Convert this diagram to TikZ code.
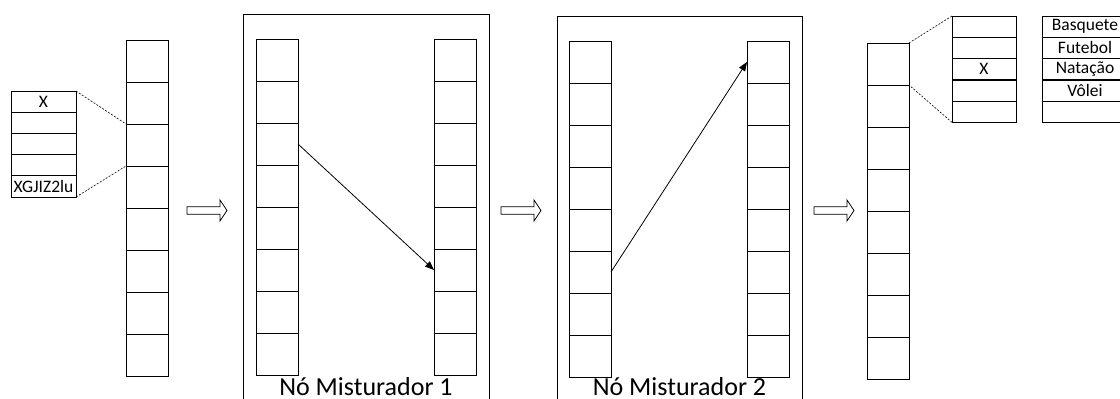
\documentclass[tikz,border=0pt]{standalone}
\usepackage{fontspec}
\setmainfont{Carlito}
\usetikzlibrary{arrows.meta}

\tikzset{
  cell/.style={draw, line width=0.8pt, minimum width=42pt, minimum height=42pt,
    inner sep=0pt, outer sep=0pt, anchor=north west},
  slot/.style={draw, line width=0.8pt, minimum height=21.2pt, inner sep=0pt,
    outer sep=0pt, anchor=north west, font=\fontsize{17.5}{18}\selectfont},
  frame/.style={draw, line width=0.8pt},
  zoomline/.style={dash pattern=on 2pt off 1.5pt, line width=0.6pt},
  hop/.style={line width=0.8pt, -{Triangle[length=9pt,width=7pt]}},
  caption/.style={font=\fontsize{26}{28}\selectfont, anchor=base, inner sep=0pt},
  hollowarrow/.pic={
    \draw[line width=0.8pt] (0,-3.8) -- (33,-3.8) -- (33,-10.5) -- (40,0)
      -- (33,10.5) -- (33,3.8) -- (0,3.8) -- cycle;
  }
}

% a vertical column of n square cells named <name>-1 ... <name>-n
\newcommand\cellcolumn[4]{%
  \foreach \k in {1,...,#4}
    \node[cell] (#1-\k) at (#2, {#3+42*(\k-1)}) {};%
}

\begin{document}
\begin{tikzpicture}[x=1pt, y=-1pt]
  \useasboundingbox (0,0) rectangle (1120,399);
  \clip (0,0) rectangle (1120,399);

  % input list and its zoomed record
  \cellcolumn{c1}{126}{40}{8}
  \foreach \k/\t in {1/X,2/,3/,4/,5/XGJIZ2lu}
    \node[slot, minimum width=65pt] (L-\k) at (11, {91+21.2*(\k-1)}) {\t};
  \draw[zoomline] (L-1.north east) -- (c1-3.north west);
  \draw[zoomline] (L-5.south east) -- (c1-4.north west);

  \pic (a1) at (187,210.5) {hollowarrow};

  % first mixing node
  \draw[frame] (243,14) rectangle (489,420);
  \cellcolumn{m1L}{256}{39}{8}
  \cellcolumn{m1R}{434}{39}{8}
  \draw[hop] (m1L-3.east) -- (m1R-6.west);
  \node[caption] (cap1) at (366,395) {Nó Misturador 1};

  \pic (a2) at (501,210.5) {hollowarrow};

  % second mixing node
  \draw[frame] (557,16) rectangle (802,420);
  \cellcolumn{m2L}{569}{41}{8}
  \cellcolumn{m2R}{747}{41}{8}
  \draw[hop] (m2L-6.east) -- (m2R-1.west);
  \node[caption] (cap2) at (679.5,395) {Nó Misturador 2};

  \pic (a3) at (814,210.5) {hollowarrow};

  % output list, zoomed record and the value table
  \cellcolumn{c4}{867}{43}{8}
  \foreach \k/\t in {1/,2/,3/X,4/,5/}
    \node[slot, minimum width=64pt] (R-\k) at (952, {16+21.3*(\k-1)}) {\t};
  \draw[zoomline] (R-1.north west) -- (c4-1.north east);
  \draw[zoomline] (R-5.south west) -- (c4-2.north east);
  \foreach \k/\t in {1/Basquete,2/Futebol,3/Natação,4/Vôlei,5/}
    \node[slot, minimum width=86pt] (S-\k) at (1042, {16+21.3*(\k-1)}) {\t};
\end{tikzpicture}
\end{document}
